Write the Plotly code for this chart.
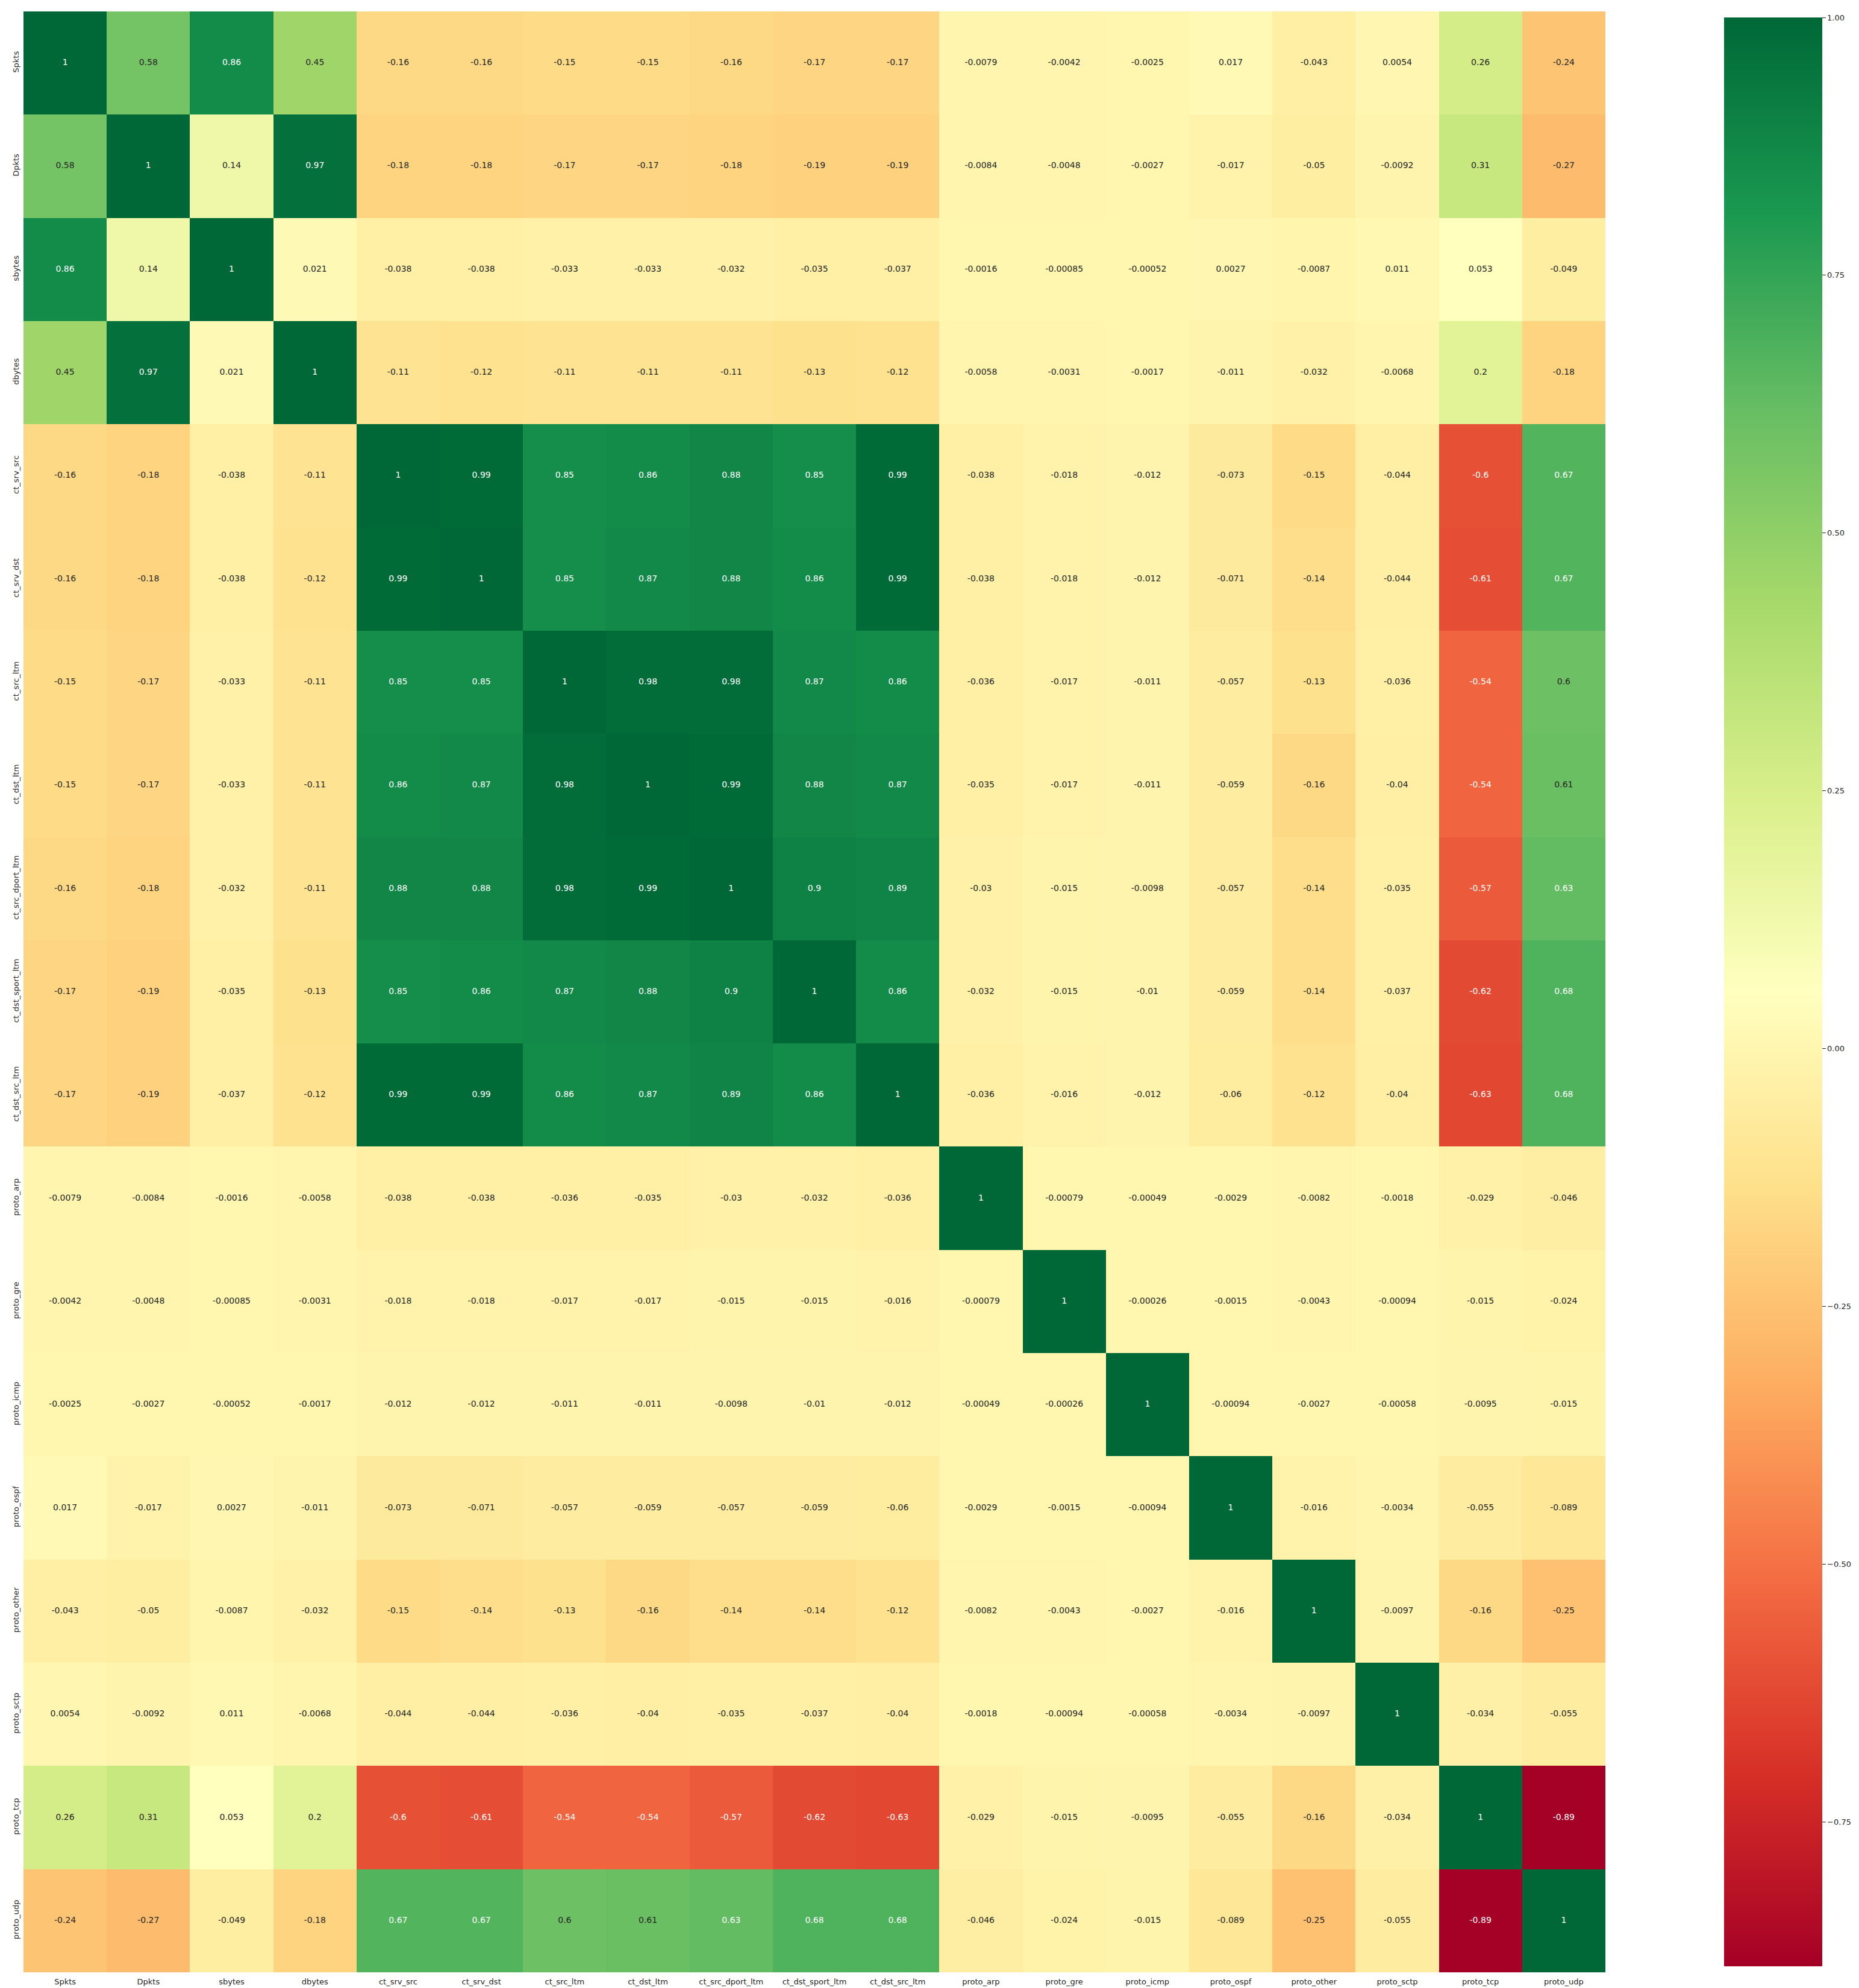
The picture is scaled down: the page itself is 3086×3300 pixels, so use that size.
import plotly.graph_objects as go

labels = ["Spkts", "Dpkts", "sbytes", "dbytes", "ct_srv_src", "ct_srv_dst", "ct_src_ltm",
          "ct_dst_ltm", "ct_src_dport_ltm", "ct_dst_sport_ltm", "ct_dst_src_ltm",
          "proto_arp", "proto_gre", "proto_icmp", "proto_ospf", "proto_other",
          "proto_sctp", "proto_tcp", "proto_udp"]

row_Spkts = [1, 0.58, 0.86, 0.45, -0.16, -0.16, -0.15, -0.15, -0.16, -0.17, -0.17, -0.0079, -0.0042, -0.0025, 0.017, -0.043, 0.0054, 0.26, -0.24]
row_Dpkts = [0.58, 1, 0.14, 0.97, -0.18, -0.18, -0.17, -0.17, -0.18, -0.19, -0.19, -0.0084, -0.0048, -0.0027, -0.017, -0.05, -0.0092, 0.31, -0.27]
row_sbytes = [0.86, 0.14, 1, 0.021, -0.038, -0.038, -0.033, -0.033, -0.032, -0.035, -0.037, -0.0016, -0.00085, -0.00052, 0.0027, -0.0087, 0.011, 0.053, -0.049]
row_dbytes = [0.45, 0.97, 0.021, 1, -0.11, -0.12, -0.11, -0.11, -0.11, -0.13, -0.12, -0.0058, -0.0031, -0.0017, -0.011, -0.032, -0.0068, 0.2, -0.18]
row_ct_srv_src = [-0.16, -0.18, -0.038, -0.11, 1, 0.99, 0.85, 0.86, 0.88, 0.85, 0.99, -0.038, -0.018, -0.012, -0.073, -0.15, -0.044, -0.6, 0.67]
row_ct_srv_dst = [-0.16, -0.18, -0.038, -0.12, 0.99, 1, 0.85, 0.87, 0.88, 0.86, 0.99, -0.038, -0.018, -0.012, -0.071, -0.14, -0.044, -0.61, 0.67]
row_ct_src_ltm = [-0.15, -0.17, -0.033, -0.11, 0.85, 0.85, 1, 0.98, 0.98, 0.87, 0.86, -0.036, -0.017, -0.011, -0.057, -0.13, -0.036, -0.54, 0.6]
row_ct_dst_ltm = [-0.15, -0.17, -0.033, -0.11, 0.86, 0.87, 0.98, 1, 0.99, 0.88, 0.87, -0.035, -0.017, -0.011, -0.059, -0.16, -0.04, -0.54, 0.61]
row_ct_src_dport_ltm = [-0.16, -0.18, -0.032, -0.11, 0.88, 0.88, 0.98, 0.99, 1, 0.9, 0.89, -0.03, -0.015, -0.0098, -0.057, -0.14, -0.035, -0.57, 0.63]
row_ct_dst_sport_ltm = [-0.17, -0.19, -0.035, -0.13, 0.85, 0.86, 0.87, 0.88, 0.9, 1, 0.86, -0.032, -0.015, -0.01, -0.059, -0.14, -0.037, -0.62, 0.68]
row_ct_dst_src_ltm = [-0.17, -0.19, -0.037, -0.12, 0.99, 0.99, 0.86, 0.87, 0.89, 0.86, 1, -0.036, -0.016, -0.012, -0.06, -0.12, -0.04, -0.63, 0.68]
row_proto_arp = [-0.0079, -0.0084, -0.0016, -0.0058, -0.038, -0.038, -0.036, -0.035, -0.03, -0.032, -0.036, 1, -0.00079, -0.00049, -0.0029, -0.0082, -0.0018, -0.029, -0.046]
row_proto_gre = [-0.0042, -0.0048, -0.00085, -0.0031, -0.018, -0.018, -0.017, -0.017, -0.015, -0.015, -0.016, -0.00079, 1, -0.00026, -0.0015, -0.0043, -0.00094, -0.015, -0.024]
row_proto_icmp = [-0.0025, -0.0027, -0.00052, -0.0017, -0.012, -0.012, -0.011, -0.011, -0.0098, -0.01, -0.012, -0.00049, -0.00026, 1, -0.00094, -0.0027, -0.00058, -0.0095, -0.015]
row_proto_ospf = [0.017, -0.017, 0.0027, -0.011, -0.073, -0.071, -0.057, -0.059, -0.057, -0.059, -0.06, -0.0029, -0.0015, -0.00094, 1, -0.016, -0.0034, -0.055, -0.089]
row_proto_other = [-0.043, -0.05, -0.0087, -0.032, -0.15, -0.14, -0.13, -0.16, -0.14, -0.14, -0.12, -0.0082, -0.0043, -0.0027, -0.016, 1, -0.0097, -0.16, -0.25]
row_proto_sctp = [0.0054, -0.0092, 0.011, -0.0068, -0.044, -0.044, -0.036, -0.04, -0.035, -0.037, -0.04, -0.0018, -0.00094, -0.00058, -0.0034, -0.0097, 1, -0.034, -0.055]
row_proto_tcp = [0.26, 0.31, 0.053, 0.2, -0.6, -0.61, -0.54, -0.54, -0.57, -0.62, -0.63, -0.029, -0.015, -0.0095, -0.055, -0.16, -0.034, 1, -0.89]
row_proto_udp = [-0.24, -0.27, -0.049, -0.18, 0.67, 0.67, 0.6, 0.61, 0.63, 0.68, 0.68, -0.046, -0.024, -0.015, -0.089, -0.25, -0.055, -0.89, 1]

cbar_ticks = [-0.75, -0.5, -0.25, 0.0, 0.25, 0.5, 0.75, 1.0]

matrix = [row_Spkts, row_Dpkts, row_sbytes, row_dbytes, row_ct_srv_src, row_ct_srv_dst,
          row_ct_src_ltm, row_ct_dst_ltm, row_ct_src_dport_ltm, row_ct_dst_sport_ltm,
          row_ct_dst_src_ltm, row_proto_arp, row_proto_gre, row_proto_icmp, row_proto_ospf,
          row_proto_other, row_proto_sctp, row_proto_tcp, row_proto_udp]

RDYLGN = ["#a50026", "#d73027", "#f46d43", "#fdae61", "#fee08b", "#ffffbf",
          "#d9ef8b", "#a6d96a", "#66bd63", "#1a9850", "#006837"]

zmin = min(min(r) for r in matrix)
zmax = max(max(r) for r in matrix)


def hex2rgb(h):
    return tuple(int(h[i:i + 2], 16) for i in (1, 3, 5))


def cmap(v):
    t = (v - zmin) / (zmax - zmin)
    t = max(0.0, min(1.0, t))
    pos = t * (len(RDYLGN) - 1)
    i = min(int(pos), len(RDYLGN) - 2)
    f = pos - i
    a, b = hex2rgb(RDYLGN[i]), hex2rgb(RDYLGN[i + 1])
    return tuple(a[k] + (b[k] - a[k]) * f for k in range(3))


def lum(rgb):
    out = []
    for c in rgb:
        c = c / 255
        out.append(c / 12.92 if c <= 0.03928 else ((c + 0.055) / 1.055) ** 2.4)
    return 0.2126 * out[0] + 0.7152 * out[1] + 0.0722 * out[2]


tx, ty, tt, tc = [], [], [], []
for i, rl in enumerate(labels):
    for j, cl in enumerate(labels):
        v = matrix[i][j]
        tx.append(cl)
        ty.append(rl)
        tt.append(format(v, ".2g"))
        tc.append("#262626" if lum(cmap(v)) > 0.408 else "#ffffff")

colorscale = [[k / (len(RDYLGN) - 1), c] for k, c in enumerate(RDYLGN)]
n = len(labels)

fig = go.Figure()
fig.add_trace(go.Heatmap(
    z=matrix, x=labels, y=labels, zmin=zmin, zmax=zmax,
    colorscale=colorscale, xgap=0, ygap=0, hoverinfo="skip",
    colorbar=dict(
        x=(2873 - 28) / 2656, xanchor="left", xref="paper",
        y=0, yanchor="bottom", len=1, lenmode="fraction",
        thickness=163, thicknessmode="pixels",
        outlinewidth=0, ticks="outside", ticklen=6, tickwidth=1.2,
        tickcolor="#262626", tickvals=cbar_ticks, tickformat=".2f",
        tickfont=dict(family="DejaVu Sans", size=13, color="#262626"),
    ),
))
fig.add_trace(go.Scatter(
    x=tx, y=ty, text=tt, mode="text", hoverinfo="skip", showlegend=False,
    textfont=dict(family="DejaVu Sans", size=14, color=tc),
))

fig.update_layout(
    width=3086, height=3300,
    margin=dict(l=28, r=402, t=11, b=28),
    paper_bgcolor="white", plot_bgcolor="white",
    font=dict(family="DejaVu Sans", size=13, color="#262626"),
    showlegend=False,
)
fig.update_xaxes(showgrid=False, zeroline=False, ticks="", tickangle=0,
                 tickfont=dict(size=13, color="#262626"), showline=False,
                 categoryorder="array", categoryarray=labels,
                 range=[-0.5, n - 0.5], autorange=False, ticklabelstandoff=6)
fig.update_yaxes(showgrid=False, zeroline=False, ticks="", tickangle=-90,
                 tickfont=dict(size=13, color="#262626"), showline=False,
                 categoryorder="array", categoryarray=labels,
                 range=[n - 0.5, -0.5], autorange=False, ticklabelstandoff=4)

fig.write_html("out.html")
